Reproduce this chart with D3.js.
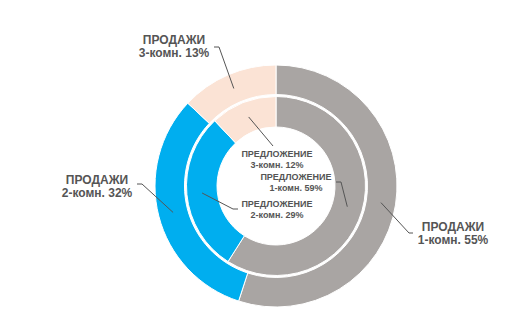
<!DOCTYPE html>
<html>
<head>
<meta charset="utf-8">
<script src="https://cdn.jsdelivr.net/npm/d3@7"></script>
<style>
  html, body { margin: 0; padding: 0; background: #fff; }
  svg text { font-family: "Liberation Sans", Arial, sans-serif; font-weight: bold; fill: #555; }
</style>
</head>
<body>
<svg id="chart" width="527" height="335"></svg>
<script>
// Apartment types, shared by both rings
const categories = ["1-комн.", "2-комн.", "3-комн."];
// Outer ring: sales share, %
const salesValues = [55, 32, 13];
// Inner ring: supply share, %
const supplyValues = [59, 29, 12];
const salesTitle = "ПРОДАЖИ";
const supplyTitle = "ПРЕДЛОЖЕНИЕ";

const colors = d3.scaleOrdinal().domain(categories).range(["#a9a5a3", "#00aeef", "#fbe3d5"]);

const svg = d3.select("#chart");
const cx = 276, cy = 186;
const g = svg.append("g").attr("transform", `translate(${cx},${cy})`);

const pie = d3.pie().sort(null).value(d => d.value).startAngle(0).endAngle(2 * Math.PI);

const rings = [
  { key: "sales", title: salesTitle, values: salesValues, inner: 91.5, outer: 121, fontSize: 12, lineGap: 13 },
  { key: "supply", title: supplyTitle, values: supplyValues, inner: 59, outer: 89.5, fontSize: 9, lineGap: 10.5 }
];

// Label placement per ring and category: text centre, first baseline, leader elbow and end
const labelLayout = {
  sales: [
    { x: 453, y: 231, elbow: [409, 233], end: [413, 233] },
    { x: 97, y: 184, elbow: [142, 184], end: [137, 184] },
    { x: 174, y: 44, elbow: [219, 47], end: [214, 47] }
  ],
  supply: [
    { x: 296, y: 180, elbow: [341, 182], end: [336, 182] },
    { x: 277, y: 207, elbow: [233, 209], end: [238, 209] },
    { x: 277, y: 157, elbow: null, end: [273, 146] }
  ]
};

rings.forEach(ring => {
  const data = categories.map((c, i) => ({ category: c, value: ring.values[i] }));
  const arcs = pie(data);
  const arc = d3.arc().innerRadius(ring.inner).outerRadius(ring.outer);

  g.append("g").selectAll("path")
    .data(arcs)
    .join("path")
    .attr("d", arc)
    .attr("fill", d => colors(d.data.category))
    .attr("stroke", "#fff")
    .attr("stroke-width", 1);

  ring.arcs = arcs;
  ring.arc = arc;
});

// Leader lines and labels drawn above both rings
rings.forEach(ring => {
  ring.arcs.forEach((d, i) => {
    const lay = labelLayout[ring.key][i];
    const [px, py] = ring.arc.centroid(d);
    const pts = [[cx + px, cy + py]];
    if (lay.elbow) pts.push(lay.elbow);
    pts.push(lay.end);
    svg.append("path")
      .attr("d", d3.line()(pts))
      .attr("fill", "none")
      .attr("stroke", "#555")
      .attr("stroke-width", 1);

    const t = svg.append("text")
      .attr("text-anchor", "middle")
      .attr("font-size", ring.fontSize);
    t.append("tspan").attr("x", lay.x).attr("y", lay.y).text(ring.title);
    t.append("tspan").attr("x", lay.x).attr("y", lay.y + ring.lineGap)
      .text(`${d.data.category} ${d.data.value}%`);
  });
});
</script>
</body>
</html>
